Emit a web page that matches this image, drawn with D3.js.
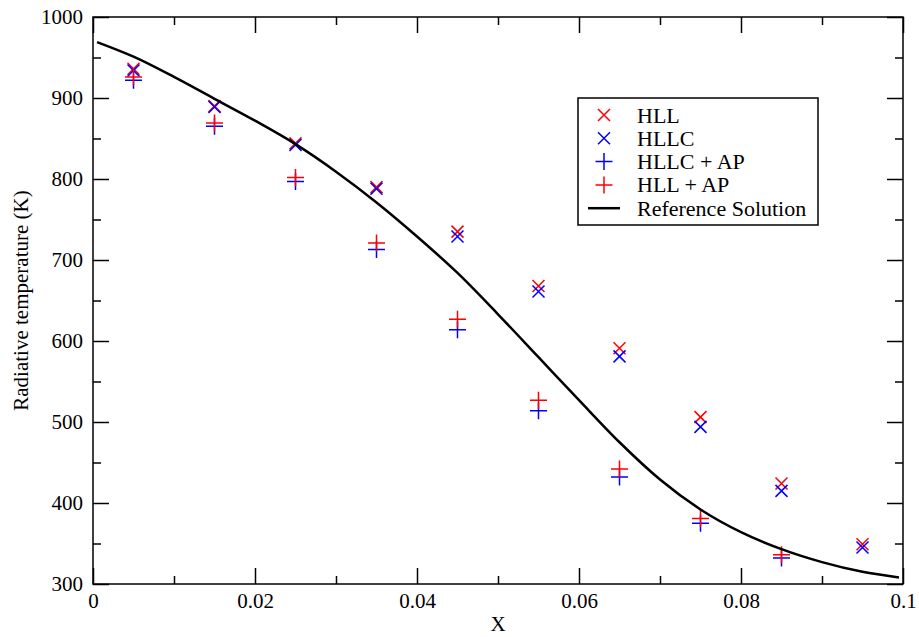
<html>
  <head>
    <style>
      body { margin: 0; background: #fff; }
      svg, svg text { font-family: "Liberation Serif", "Times New Roman", Times, "DejaVu Serif", serif; }
    </style>
  </head>
  <body>
    <div id="chart"></div>
    <script src="https://d3js.org/d3.v7.min.js"></script>
    <script>
      // data
      const xCells = [0.005, 0.015, 0.025, 0.035, 0.045, 0.055, 0.065, 0.075, 0.085, 0.095];
      const hll = [936, 890, 844, 790, 735, 668, 591, 506, 424, 349];
      const hllc = [934, 889, 842, 788, 729, 661, 581, 494, 415, 345];
      const xAP = [0.005, 0.015, 0.025, 0.035, 0.045, 0.055, 0.065, 0.075, 0.085];
      const hllcAP = [922, 865, 797, 713, 614, 514, 432, 375, 332];
      const hllAP = [926, 869, 802, 721, 627, 527, 442, 381, 336];
      const refX = [0.0005, 0.005, 0.01, 0.015, 0.02, 0.025, 0.03, 0.035, 0.04, 0.045, 0.05,
                    0.055, 0.06, 0.065, 0.07, 0.075, 0.08, 0.085, 0.09, 0.095, 0.0995];
      const refT = [969, 951, 926, 899, 872, 843, 809, 771, 729, 684, 633,
                    580, 527, 475, 429, 392, 364, 343, 327, 315, 308];
      const xTicks = [0, 0.02, 0.04, 0.06, 0.08, 0.1];
      const xMinor = [0.01, 0.03, 0.05, 0.07, 0.09];
      const yTicks = [300, 400, 500, 600, 700, 800, 900, 1000];
      const yMinor = [350, 450, 550, 650, 750, 850, 950];

      const width = 919, height = 637;
      const plotL = 93, plotR = 903, plotT = 17, plotB = 584;

      const svg = d3.select("#chart").append("svg")
        .attr("width", width)
        .attr("height", height);

      const x = d3.scaleLinear().domain([0, 0.1]).range([plotL, plotR]);
      const y = d3.scaleLinear().domain([300, 1000]).range([plotB, plotT]);

      const fmt = d => d === 0 ? "0" : String(+d.toFixed(2));

      function styleAxis(g) {
        g.attr("font-family", null).attr("font-size", 21);
        g.select(".domain").remove();
        g.selectAll("line").attr("stroke", "#000").attr("stroke-width", 1.5);
        g.selectAll("text").attr("fill", "#000");
      }

      // major + minor ticks, all four sides, pointing inward
      svg.append("g").attr("transform", `translate(0,${plotB})`)
        .call(d3.axisBottom(x).tickValues(xTicks).tickFormat(fmt).tickSize(-16).tickPadding(9))
        .call(styleAxis);
      svg.append("g").attr("transform", `translate(0,${plotB})`)
        .call(d3.axisBottom(x).tickValues(xMinor).tickFormat("").tickSize(-8))
        .call(styleAxis);
      svg.append("g").attr("transform", `translate(0,${plotT})`)
        .call(d3.axisTop(x).tickValues(xTicks).tickFormat("").tickSize(-16))
        .call(styleAxis);
      svg.append("g").attr("transform", `translate(0,${plotT})`)
        .call(d3.axisTop(x).tickValues(xMinor).tickFormat("").tickSize(-8))
        .call(styleAxis);

      svg.append("g").attr("transform", `translate(${plotL},0)`)
        .call(d3.axisLeft(y).tickValues(yTicks).tickFormat(d3.format("d")).tickSize(-16).tickPadding(10))
        .call(styleAxis);
      svg.append("g").attr("transform", `translate(${plotL},0)`)
        .call(d3.axisLeft(y).tickValues(yMinor).tickFormat("").tickSize(-8))
        .call(styleAxis);
      svg.append("g").attr("transform", `translate(${plotR},0)`)
        .call(d3.axisRight(y).tickValues(yTicks).tickFormat("").tickSize(-16))
        .call(styleAxis);
      svg.append("g").attr("transform", `translate(${plotR},0)`)
        .call(d3.axisRight(y).tickValues(yMinor).tickFormat("").tickSize(-8))
        .call(styleAxis);

      svg.append("rect")
        .attr("x", plotL).attr("y", plotT)
        .attr("width", plotR - plotL).attr("height", plotB - plotT)
        .attr("fill", "none").attr("stroke", "#000").attr("stroke-width", 1.5);

      // axis titles
      svg.append("text")
        .attr("x", (plotL + plotR) / 2).attr("y", 631)
        .attr("text-anchor", "middle").attr("font-size", 21)
        .text("X");
      svg.append("text")
        .attr("transform", `translate(28,${(plotT + plotB) / 2}) rotate(-90)`)
        .attr("text-anchor", "middle").attr("font-size", 21)
        .text("Radiative temperature (K)");

      const cross = (g, s) => g.attr("d", `M${-s},${-s}L${s},${s}M${-s},${s}L${s},${-s}`);
      const plus = (g, s) => g.attr("d", `M${-s},0L${s},0M0,${-s}L0,${s}`);

      function markers(xs, ys, shape, size, color) {
        svg.append("g").selectAll("path")
          .data(xs.map((d, i) => [d, ys[i]]))
          .join("path")
          .attr("transform", d => `translate(${x(d[0])},${y(d[1])})`)
          .call(shape, size)
          .attr("fill", "none")
          .attr("stroke", color)
          .attr("stroke-width", 1.5);
      }

      markers(xCells, hll, cross, 6, "#ff0000");
      markers(xCells, hllc, cross, 6, "#0000ff");
      markers(xAP, hllcAP, plus, 8.5, "#0000ff");
      markers(xAP, hllAP, plus, 8.5, "#ff0000");

      const line = d3.line()
        .x((d, i) => x(refX[i]))
        .y(d => y(d))
        .curve(d3.curveMonotoneX);

      svg.append("path")
        .datum(refT)
        .attr("d", line)
        .attr("fill", "none")
        .attr("stroke", "#000")
        .attr("stroke-width", 2.5);

      // legend
      const legend = svg.append("g");
      legend.append("rect")
        .attr("x", 578).attr("y", 98)
        .attr("width", 240).attr("height", 127)
        .attr("fill", "#fff").attr("stroke", "#000").attr("stroke-width", 1.5);

      const legendItems = [
        { label: "HLL", shape: "cross", color: "#ff0000" },
        { label: "HLLC", shape: "cross", color: "#0000ff" },
        { label: "HLLC + AP", shape: "plus", color: "#0000ff" },
        { label: "HLL + AP", shape: "plus", color: "#ff0000" },
        { label: "Reference Solution", shape: "line", color: "#000" }
      ];

      legendItems.forEach((d, i) => {
        const cy = 115 + i * 23.3;
        if (d.shape === "line") {
          legend.append("line")
            .attr("x1", 588).attr("x2", 620).attr("y1", cy).attr("y2", cy)
            .attr("stroke", d.color).attr("stroke-width", 2.5);
        } else {
          legend.append("path")
            .attr("transform", `translate(604,${cy})`)
            .call(d.shape === "cross" ? cross : plus, d.shape === "cross" ? 6 : 8.5)
            .attr("fill", "none").attr("stroke", d.color).attr("stroke-width", 1.5);
        }
        legend.append("text")
          .attr("x", 637).attr("y", cy + 7.5)
          .attr("font-size", 22)
          .text(d.label);
      });
    </script>
  </body>
</html>
